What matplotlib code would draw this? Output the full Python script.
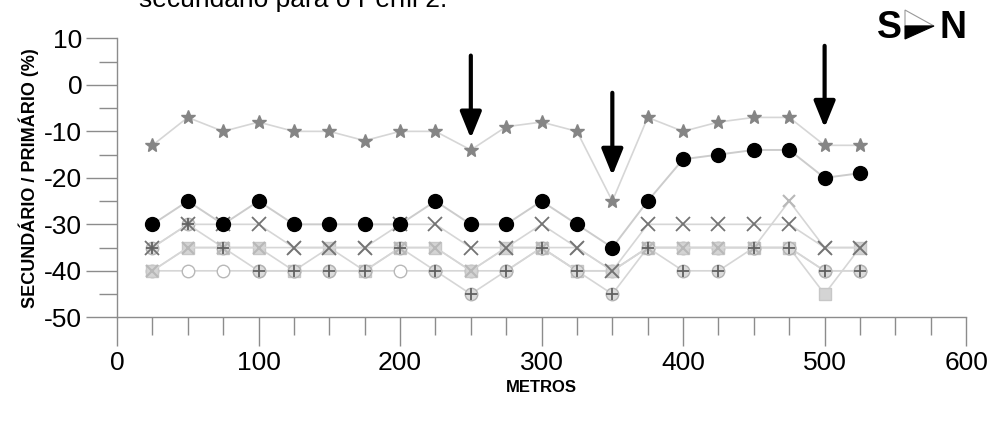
import matplotlib.pyplot as plt
import matplotlib.patches as mpatches

plt.rcParams['font.family'] = ['Liberation Sans', 'DejaVu Sans']
plt.rcParams['axes.unicode_minus'] = False

# distance along the profile (m)
metros = [25, 50, 75, 100, 125, 150, 175, 200, 225, 250, 275,
          300, 325, 350, 375, 400, 425, 450, 475, 500, 525]

# secundario / primario (%) per series
estrela = [-13, -7, -10, -8, -10, -10, -12, -10, -10, -14, -9,
           -8, -10, -25, -7, -10, -8, -7, -7, -13, -13]
circulo = [-30, -25, -30, -25, -30, -30, -30, -30, -25, -30, -30,
           -25, -30, -35, -25, -16, -15, -14, -14, -20, -19]
xis = [-35, -30, -30, -30, -35, -35, -35, -30, -30, -35, -35,
       -30, -35, -40, -30, -30, -30, -30, -30, -35, -35]
xis2 = [-40, -35, -35, -35, -35, -35, -35, -35, -35, -40, -35,
        -35, -35, -40, -35, -35, -35, -35, -25, -35, -35]
quadrado = [-40, -35, -35, -35, -40, -35, -40, -35, -35, -40, -35,
            -35, -40, -40, -35, -35, -35, -35, -35, -45, -35]
aberto = [-40, -40, -40, -40, -40, -40, -40, -40, -40, -40, -40,
          -35, -40, -40, -35, -35, -35, -35, -35, -40, -40]
mais = [-35, -30, -35, -40, -40, -40, -40, -35, -40, -45, -40,
        -35, -40, -45, -35, -40, -40, -35, -35, -40, -40]

# arrows: x position, top, tip
setas_x = [250, 350, 500]
setas_topo = [6.3, -1.7, 8.4]
setas_ponta = [-11.5, -19.5, -9.2]

fig = plt.figure(figsize=(9.96, 4.28), dpi=100)
ax = fig.add_axes([0.1175, 0.2586, 0.8525, 0.6517])

linha = dict(color='0.84', lw=1.2, zorder=1)
ax.plot(metros, aberto, marker='o', ms=9, mfc='white', mec='0.72', mew=1.0, **linha)
ax.plot(metros, quadrado, marker='s', ms=8, mfc='0.83', mec='0.78', **linha)
ax.plot(metros, mais, marker='o', ms=9, mfc='0.86', mec='0.7', mew=1.0, **linha)
ax.plot(metros, mais, ls='none', marker='+', ms=9, mec='0.38', mew=1.3, zorder=2)
ax.plot(metros, xis2, marker='x', ms=9, mec='0.72', mew=1.5, **linha)
ax.plot(metros, xis, marker='x', ms=10, mec='0.45', mew=1.3, **linha)
ax.plot(metros, estrela, marker='*', ms=10, mfc='0.52', mec='0.52', **linha)
ax.plot(metros, circulo, marker='o', ms=10, mfc='black', mec='black',
        color='0.8', lw=1.4, zorder=3)

for x, y0, y1 in zip(setas_x, setas_topo, setas_ponta):
    ax.annotate('', xy=(x, y1), xytext=(x, y0),
                arrowprops=dict(arrowstyle='-|>,head_length=1.6,head_width=0.65',
                                color='black', lw=3, shrinkA=0, shrinkB=0),
                zorder=5)

ax.set_xlim(0, 600)
ax.set_ylim(-50, 10)
ax.set_xticks(range(0, 601, 100))
ax.set_xticks(range(25, 600, 25), minor=True)
ax.set_yticks(range(-50, 11, 10))
ax.set_yticks(range(-45, 10, 10), minor=True)
for s in ['top', 'right']:
    ax.spines[s].set_visible(False)
for s in ['left', 'bottom']:
    ax.spines[s].set_color('0.55')
    ax.spines[s].set_linewidth(1.0)
ax.tick_params(axis='both', which='major', direction='out', color='0.55',
               labelsize=19, width=1.0)
ax.tick_params(axis='x', which='major', length=21, pad=3)
ax.tick_params(axis='y', which='major', length=22, pad=3)
ax.tick_params(axis='both', which='minor', direction='out', color='0.55',
               length=13, width=1.0)

ax.set_xlabel('METROS', fontsize=12, fontweight='bold', labelpad=4)
ax.set_ylabel('SECUNDÁRIO / PRIMÁRIO (%)', fontsize=13, fontweight='bold',
              labelpad=4)

# title cut off at the top of the image
fig.text(0.14, 1.0, 'secundário para o Perfil 2.', fontsize=19, va='center',
         ha='left')

# S > N direction sign
fig.text(0.906, 0.935, 'S', fontsize=27, fontweight='bold', ha='right', va='center')
fig.text(0.943, 0.935, 'N', fontsize=27, fontweight='bold', ha='left', va='center')
W, H = 996, 428
cima = mpatches.Polygon([(905 / W, 1 - 10 / H), (934 / W, 1 - 26 / H), (905 / W, 1 - 26 / H)],
                        closed=True, facecolor='white', edgecolor='0.6', lw=0.8,
                        transform=fig.transFigure)
baixo = mpatches.Polygon([(905 / W, 1 - 26 / H), (934 / W, 1 - 26 / H), (905 / W, 1 - 39 / H)],
                         closed=True, facecolor='black', edgecolor='black', lw=0.8,
                         transform=fig.transFigure)
fig.patches.extend([cima, baixo])

fig.savefig('out.png', dpi=100)
